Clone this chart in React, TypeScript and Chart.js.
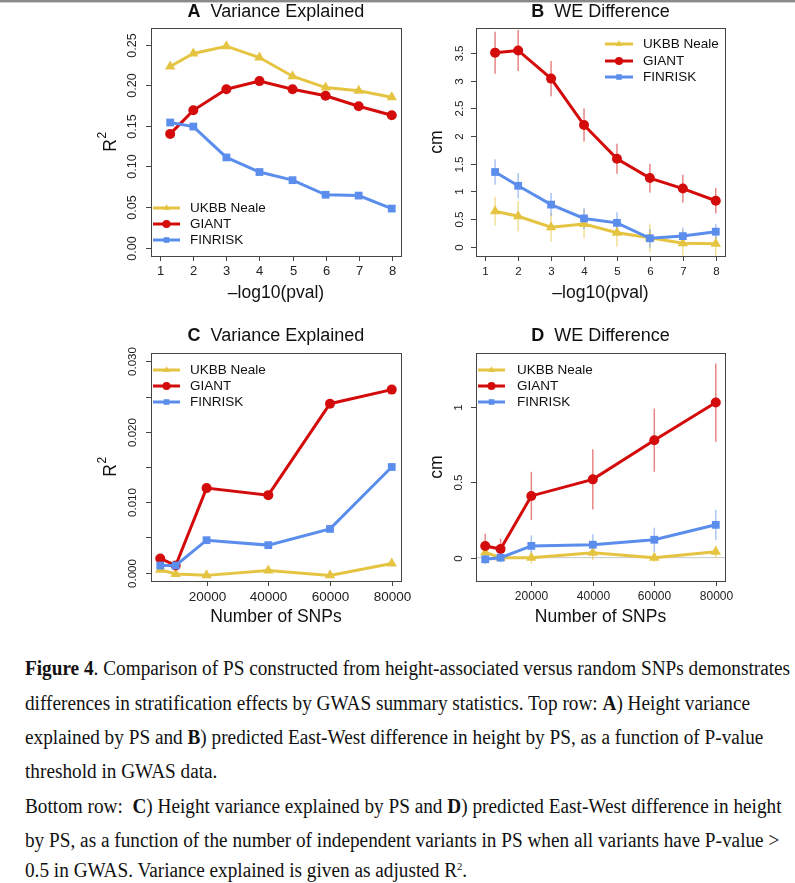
import React, { useEffect, useLayoutEffect, useRef } from "react";
import { Chart, registerables } from "chart.js";

Chart.register(...registerables);

// ---------- data ----------
const seriesNames = ["UKBB Neale", "GIANT", "FINRISK"];
const seriesColors = ["#E5C442", "#D40B0B", "#5B8EEC"];
const seriesErrColors = ["rgba(229,196,66,0.55)", "rgba(212,11,11,0.5)", "rgba(91,142,236,0.5)"];
const seriesStyles = ["triangle", "circle", "rect"];

const pvalX = [1.3, 2, 3, 4, 5, 6, 7, 8];
const snpX = [5000, 10000, 20000, 40000, 60000, 80000];

// Panel A: variance explained vs -log10(pval)
const aUKBB = [0.223, 0.239, 0.248, 0.234, 0.211, 0.197, 0.193, 0.185];
const aGIANT = [0.14, 0.169, 0.195, 0.205, 0.195, 0.187, 0.174, 0.163];
const aFINRISK = [0.154, 0.149, 0.111, 0.093, 0.083, 0.065, 0.064, 0.048];

// Panel B: WE difference vs -log10(pval)
const bUKBB = [0.64, 0.55, 0.35, 0.41, 0.25, 0.16, 0.06, 0.05];
const bUKBBErr = [0.26, 0.27, 0.26, 0.26, 0.25, 0.26, 0.24, 0.25];
const bGIANT = [3.51, 3.55, 3.04, 2.2, 1.59, 1.24, 1.05, 0.83];
const bGIANTErr = [0.38, 0.37, 0.32, 0.3, 0.27, 0.26, 0.25, 0.23];
const bFINRISK = [1.35, 1.1, 0.76, 0.51, 0.43, 0.15, 0.19, 0.27];
const bFINRISKErr = [0.23, 0.23, 0.21, 0.19, 0.19, 0.17, 0.15, 0.14];

// Panel C: variance explained vs number of SNPs
const cUKBB = [0.0004, -0.0002, -0.0004, 0.0003, -0.0004, 0.0013];
const cGIANT = [0.002, 0.001, 0.012, 0.011, 0.024, 0.026];
const cFINRISK = [0.001, 0.001, 0.0046, 0.0039, 0.0062, 0.015];

// Panel D: WE difference vs number of SNPs
const dUKBB = [0.035, 0.0, 0.0, 0.033, 0.0, 0.04];
const dUKBBErr = [0.03, 0.03, 0.04, 0.05, 0.03, 0.04];
const dGIANT = [0.078, 0.057, 0.41, 0.52, 0.78, 1.03];
const dGIANTErr = [0.08, 0.07, 0.16, 0.2, 0.21, 0.26];
const dFINRISK = [-0.011, 0.0, 0.078, 0.086, 0.119, 0.218];
const dFINRISKErr = [0.03, 0.03, 0.07, 0.07, 0.08, 0.1];

// ticks
const pvalTicks = [1, 2, 3, 4, 5, 6, 7, 8];
const pvalTickLabels = ["1", "2", "3", "4", "5", "6", "7", "8"];
const snpTicks = [20000, 40000, 60000, 80000];
const snpTickLabels = ["20000", "40000", "60000", "80000"];
const aYTicks = [0, 0.05, 0.1, 0.15, 0.2, 0.25];
const aYTickLabels = ["0.00", "0.05", "0.10", "0.15", "0.20", "0.25"];
const bYTicks = [0, 0.5, 1, 1.5, 2, 2.5, 3, 3.5];
const bYTickLabels = ["0", "0.5", "1", "1.5", "2", "2.5", "3", "3.5"];
const cYTicks = [0, 0.005, 0.01, 0.015, 0.02, 0.025, 0.03];
const cYTickLabels = ["0.000", "", "0.010", "", "0.020", "", "0.030"];
const dYTicks = [0, 0.5, 1];
const dYTickLabels = ["0", "0.5", "1"];

const captionLines: (string | [string, string])[][] = [
  [["b", "Figure 4"], ". Comparison of PS constructed from height-associated versus random SNPs demonstrates"],
  ["differences in stratification effects by GWAS summary statistics. Top row: ", ["b", "A"], ") Height variance"],
  ["explained by PS and ", ["b", "B"], ") predicted East-West difference in height by PS, as a function of P-value"],
  ["threshold in GWAS data."],
  ["Bottom row:  ", ["b", "C"], ") Height variance explained by PS and ", ["b", "D"], ") predicted East-West difference in height"],
  ["by PS, as a function of the number of independent variants in PS when all variants have P-value >"],
  ["0.5 in GWAS. Variance explained is given as adjusted R", ["sup", "2"], "."],
];
const captionCenters = [668, 703, 737, 771, 806, 840, 870];

// ---------- layout ----------
const W = 795;
const H = 640;
const FONT = "'Liberation Sans', Arial, sans-serif";

type Series = { data: number[]; err?: number[] };
type PanelCfg = {
  box: [number, number, number, number];
  xs: number[];
  xMin: number; xMax: number; yMin: number; yMax: number;
  xTicks: number[]; xTickLabels: string[]; xTickFont: number; xLabelY: number;
  yTicks: number[]; yTickLabels: string[]; yTickFont: number; yLabelX: number;
  letter: string; title: string; titleY: number;
  xTitle: string; xTitleY: number;
  yTitle: string; yTitleSup?: string; yTitleX: number;
  legend: { x0: number; x1: number; tx: number; rows: number[] };
  series: Series[];
  zeroLine?: boolean;
};

const panels: PanelCfg[] = [
  {
    box: [151, 28, 401, 256], xs: pvalX,
    xMin: 0.72, xMax: 8.28, yMin: -0.0104, yMax: 0.2704,
    xTicks: pvalTicks, xTickLabels: pvalTickLabels, xTickFont: 13, xLabelY: 271,
    yTicks: aYTicks, yTickLabels: aYTickLabels, yTickFont: 12.5, yLabelX: 133,
    letter: "A", title: "Variance Explained", titleY: 12,
    xTitle: "\u2013log10(pval)", xTitleY: 293,
    yTitle: "R", yTitleSup: "2", yTitleX: 111,
    legend: { x0: 153, x1: 180, tx: 190, rows: [208, 224, 240] },
    series: [{ data: aUKBB }, { data: aGIANT }, { data: aFINRISK }],
  },
  {
    box: [476, 28, 725, 256], xs: pvalX,
    xMin: 0.72, xMax: 8.28, yMin: -0.17, yMax: 3.956,
    xTicks: pvalTicks, xTickLabels: pvalTickLabels, xTickFont: 11.5, xLabelY: 272,
    yTicks: bYTicks, yTickLabels: bYTickLabels, yTickFont: 11.5, yLabelX: 460,
    letter: "B", title: "WE Difference", titleY: 12,
    xTitle: "\u2013log10(pval)", xTitleY: 293,
    yTitle: "cm", yTitleX: 437,
    legend: { x0: 605, x1: 633, tx: 643, rows: [44, 61, 77] },
    series: [
      { data: bUKBB, err: bUKBBErr },
      { data: bGIANT, err: bGIANTErr },
      { data: bFINRISK, err: bFINRISKErr },
    ],
  },
  {
    box: [151, 353, 401, 581], xs: snpX,
    xMin: 2000, xMax: 83000, yMin: -0.0012, yMax: 0.0312,
    xTicks: snpTicks, xTickLabels: snpTickLabels, xTickFont: 13.5, xLabelY: 597,
    yTicks: cYTicks, yTickLabels: cYTickLabels, yTickFont: 11.5, yLabelX: 133,
    letter: "C", title: "Variance Explained", titleY: 336,
    xTitle: "Number of SNPs", xTitleY: 617,
    yTitle: "R", yTitleSup: "2", yTitleX: 111,
    legend: { x0: 153, x1: 180, tx: 190, rows: [370, 386, 402] },
    series: [{ data: cUKBB }, { data: cGIANT }, { data: cFINRISK }],
  },
  {
    box: [476, 353, 725, 581], xs: snpX,
    xMin: 2000, xMax: 83000, yMin: -0.155, yMax: 1.359,
    xTicks: snpTicks, xTickLabels: snpTickLabels, xTickFont: 12, xLabelY: 597,
    yTicks: dYTicks, yTickLabels: dYTickLabels, yTickFont: 11.5, yLabelX: 459,
    letter: "D", title: "WE Difference", titleY: 336,
    xTitle: "Number of SNPs", xTitleY: 617,
    yTitle: "cm", yTitleX: 437,
    legend: { x0: 478, x1: 505, tx: 517, rows: [370, 386, 402] },
    series: [
      { data: dUKBB, err: dUKBBErr },
      { data: dGIANT, err: dGIANTErr },
      { data: dFINRISK, err: dFINRISKErr },
    ],
    zeroLine: true,
  },
];

function drawMarker(ctx: CanvasRenderingContext2D, style: string, x: number, y: number, r: number, color: string) {
  ctx.fillStyle = color;
  ctx.beginPath();
  if (style === "triangle") {
    ctx.moveTo(x, y - r);
    ctx.lineTo(x + r * 0.866, y + r * 0.5);
    ctx.lineTo(x - r * 0.866, y + r * 0.5);
    ctx.closePath();
  } else if (style === "circle") {
    ctx.arc(x, y, r, 0, Math.PI * 2);
  } else {
    ctx.rect(x - r, y - r, 2 * r, 2 * r);
  }
  ctx.fill();
}

function makePlugin(cfg: PanelCfg) {
  return {
    id: "rstyle",
    beforeDatasetsDraw(chart: any) {
      const ctx: CanvasRenderingContext2D = chart.ctx;
      const xs = chart.scales.x;
      const ys = chart.scales.y;
      const area = chart.chartArea;
      ctx.save();
      if (cfg.zeroLine) {
        ctx.strokeStyle = "#c8c8c8";
        ctx.lineWidth = 1;
        const py = ys.getPixelForValue(0);
        ctx.beginPath();
        ctx.moveTo(area.left, py);
        ctx.lineTo(area.right, py);
        ctx.stroke();
      }
      cfg.series.forEach((s, si) => {
        if (!s.err) return;
        ctx.strokeStyle = seriesErrColors[si];
        ctx.lineWidth = 1.5;
        s.data.forEach((v, i) => {
          const px = xs.getPixelForValue(cfg.xs[i]);
          ctx.beginPath();
          ctx.moveTo(px, Math.min(ys.getPixelForValue(v - s.err![i]), area.bottom));
          ctx.lineTo(px, Math.max(ys.getPixelForValue(v + s.err![i]), area.top));
          ctx.stroke();
        });
      });
      ctx.restore();
    },
    afterDraw(chart: any) {
      const ctx: CanvasRenderingContext2D = chart.ctx;
      const xs = chart.scales.x;
      const ys = chart.scales.y;
      const a = chart.chartArea;
      ctx.save();
      // box
      ctx.strokeStyle = "#444";
      ctx.lineWidth = 1;
      ctx.strokeRect(Math.round(a.left) + 0.5, Math.round(a.top) + 0.5, Math.round(a.right - a.left), Math.round(a.bottom - a.top));
      // x ticks
      ctx.fillStyle = "#222";
      ctx.font = `${cfg.xTickFont}px ${FONT}`;
      ctx.textAlign = "center";
      ctx.textBaseline = "middle";
      cfg.xTicks.forEach((t, i) => {
        const px = Math.round(xs.getPixelForValue(t)) + 0.5;
        ctx.beginPath();
        ctx.moveTo(px, a.bottom);
        ctx.lineTo(px, a.bottom + 5);
        ctx.stroke();
        ctx.fillText(cfg.xTickLabels[i], px, cfg.xLabelY);
      });
      // y ticks
      ctx.font = `${cfg.yTickFont}px ${FONT}`;
      cfg.yTicks.forEach((t, i) => {
        const py = Math.round(ys.getPixelForValue(t)) + 0.5;
        ctx.beginPath();
        ctx.moveTo(a.left, py);
        ctx.lineTo(a.left - 5, py);
        ctx.stroke();
        const lab = cfg.yTickLabels[i];
        if (lab) {
          ctx.save();
          ctx.translate(cfg.yLabelX, py);
          ctx.rotate(-Math.PI / 2);
          ctx.fillText(lab, 0, 0);
          ctx.restore();
        }
      });
      const cx = (a.left + a.right) / 2;
      const cy = (a.top + a.bottom) / 2;
      // title
      ctx.fillStyle = "#111";
      ctx.textAlign = "left";
      ctx.font = `bold 18px ${FONT}`;
      const wl = ctx.measureText(cfg.letter + "  ").width;
      ctx.font = `18px ${FONT}`;
      const wt = ctx.measureText(cfg.title).width;
      const tx0 = cx - (wl + wt) / 2;
      ctx.font = `bold 18px ${FONT}`;
      ctx.fillText(cfg.letter, tx0, cfg.titleY);
      ctx.font = `18px ${FONT}`;
      ctx.fillText(cfg.title, tx0 + wl, cfg.titleY);
      // x title
      ctx.textAlign = "center";
      ctx.font = `17.5px ${FONT}`;
      ctx.fillText(cfg.xTitle, cx, cfg.xTitleY);
      // y title
      ctx.save();
      ctx.translate(cfg.yTitleX, cy);
      ctx.rotate(-Math.PI / 2);
      ctx.textAlign = "left";
      ctx.font = `17.5px ${FONT}`;
      const wr = ctx.measureText(cfg.yTitle).width;
      let ws = 0;
      if (cfg.yTitleSup) {
        ctx.font = `12px ${FONT}`;
        ws = ctx.measureText(cfg.yTitleSup).width;
      }
      const sx = -(wr + ws) / 2;
      ctx.font = `17.5px ${FONT}`;
      ctx.fillText(cfg.yTitle, sx, 0);
      if (cfg.yTitleSup) {
        ctx.font = `12px ${FONT}`;
        ctx.fillText(cfg.yTitleSup, sx + wr + 0.5, -8);
      }
      ctx.restore();
      // legend
      const lg = cfg.legend;
      ctx.textAlign = "left";
      ctx.font = `13.5px ${FONT}`;
      lg.rows.forEach((ry, si) => {
        ctx.strokeStyle = seriesColors[si];
        ctx.lineWidth = 3;
        ctx.beginPath();
        ctx.moveTo(lg.x0, ry);
        ctx.lineTo(lg.x1, ry);
        ctx.stroke();
        const mr = seriesStyles[si] === "triangle" ? 3.8 : seriesStyles[si] === "circle" ? 4 : 2.8;
        drawMarker(ctx, seriesStyles[si], (lg.x0 + lg.x1) / 2, ry, mr, seriesColors[si]);
        ctx.fillStyle = "#111";
        ctx.fillText(seriesNames[si], lg.tx, ry + 0.5);
      });
      ctx.restore();
    },
  };
}

function makeConfig(cfg: PanelCfg): any {
  const [l, t, r, b] = cfg.box;
  const datasets = cfg.series.map((s, si) => ({
    label: seriesNames[si],
    data: cfg.xs.map((x, i) => ({ x, y: s.data[i] })),
    borderColor: seriesColors[si],
    backgroundColor: seriesColors[si],
    borderWidth: 3,
    pointStyle: seriesStyles[si],
    pointRadius: si === 0 ? 6 : si === 1 ? 5 : 5.5,
    pointBorderWidth: 0,
    pointBackgroundColor: seriesColors[si],
    tension: 0,
    order: 2 - si,
  }));
  return {
    type: "line",
    data: { datasets },
    options: {
      responsive: false,
      animation: false,
      events: [],
      layout: { padding: { left: l, top: t, right: W - r, bottom: H - b } },
      scales: {
        x: { type: "linear", min: cfg.xMin, max: cfg.xMax, display: false },
        y: { type: "linear", min: cfg.yMin, max: cfg.yMax, display: false },
      },
      plugins: {
        legend: { display: false },
        title: { display: false },
        tooltip: { enabled: false },
      },
    },
    plugins: [makePlugin(cfg)],
  };
}

function Panel({ cfg }: { cfg: PanelCfg }) {
  const ref = useRef<HTMLCanvasElement>(null);
  useEffect(() => {
    const chart = new Chart(ref.current as HTMLCanvasElement, makeConfig(cfg));
    return () => chart.destroy();
  }, [cfg]);
  return (
    <canvas
      ref={ref}
      width={W}
      height={H}
      style={{ position: "absolute", left: 0, top: 0, width: W, height: H, pointerEvents: "none" }}
    />
  );
}

function Caption() {
  const refs = useRef<(HTMLDivElement | null)[]>([]);
  useLayoutEffect(() => {
    const first = refs.current[0];
    if (!first) return;
    const w = first.scrollWidth;
    const scale = w > 0 ? (790 - 25) / w : 1;
    refs.current.forEach((el) => {
      if (el) el.style.transform = `scaleX(${scale})`;
    });
  }, []);
  return (
    <>
      {captionLines.map((parts, li) => (
        <div
          key={li}
          ref={(el) => { refs.current[li] = el; }}
          style={{
            position: "absolute",
            left: 25,
            top: captionCenters[li] - 12,
            height: 24,
            lineHeight: "24px",
            whiteSpace: "pre",
            fontFamily: "'Liberation Serif', 'Times New Roman', serif",
            fontSize: 20,
            color: "#111",
            transformOrigin: "0 50%",
          }}
        >
          {parts.map((p, pi) =>
            typeof p === "string" ? (
              <span key={pi}>{p}</span>
            ) : p[0] === "b" ? (
              <b key={pi}>{p[1]}</b>
            ) : (
              <sup key={pi} style={{ fontSize: 11, verticalAlign: "7px", lineHeight: 0 }}>{p[1]}</sup>
            )
          )}
        </div>
      ))}
    </>
  );
}

export default function App() {
  return (
    <div style={{ position: "absolute", left: 0, top: 0, width: 795, height: 883, background: "#fff", overflow: "hidden" }}>
      <div style={{ position: "absolute", left: 0, top: 0, width: 795, height: 2, background: "#8a8a8a" }} />
      <div style={{ position: "absolute", left: 0, top: 2, width: 795, height: 1, background: "#cfcfcf" }} />
      {panels.map((p, i) => (
        <Panel key={i} cfg={p} />
      ))}
      <Caption />
    </div>
  );
}
